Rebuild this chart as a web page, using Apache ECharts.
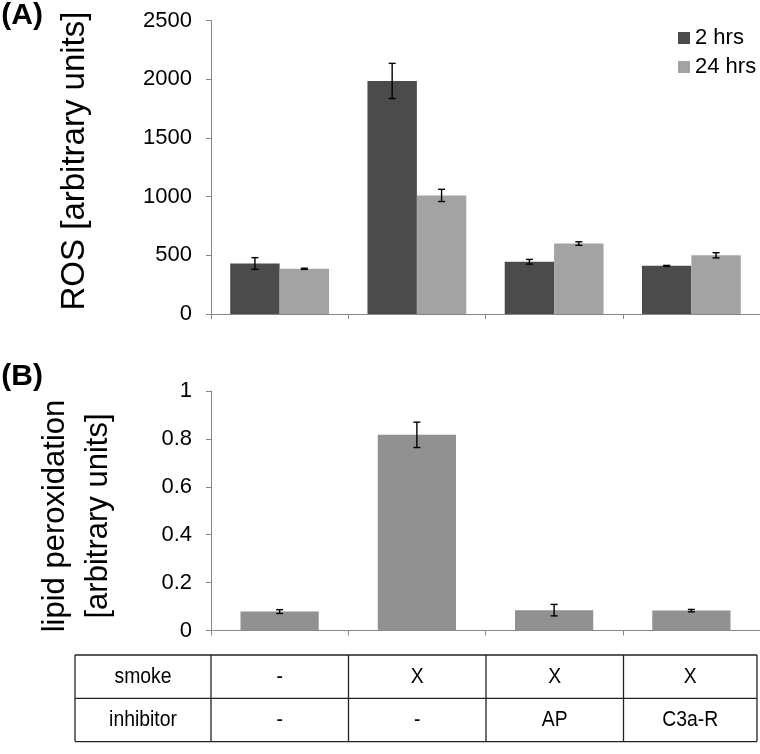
<!DOCTYPE html>
<html><head><meta charset="utf-8">
<script src="https://cdn.jsdelivr.net/npm/echarts@6/dist/echarts.min.js"></script>
<style>html,body{margin:0;padding:0;background:#fff}#c{width:760px;height:754px}</style>
</head><body><div id="c"></div>
<script>
// ---- data ----
const categories = ['g1', 'g2', 'g3', 'g4'];
const seriesNames = ['2 hrs', '24 hrs'];
const ros2h = [430, 1985, 445, 410];
const ros2hErr = [50, 150, 20, 4];
const ros24h = [385, 1010, 600, 500];
const ros24hErr = [5, 52, 15, 22];
const lipid = [0.079, 0.817, 0.085, 0.083];
const lipidErr = [0.008, 0.053, 0.024, 0.005];
const rosTicks = [0, 500, 1000, 1500, 2000, 2500];
const lipidTicks = [0, 0.2, 0.4, 0.6, 0.8, 1];
const rowLabels = ['smoke', 'inhibitor'];
const smokeRow = ['-', 'X', 'X', 'X'];
const inhibitorRow = ['-', '-', 'AP', 'C3a-R'];
const panelLabels = ['(A)', '(B)'];
const yNameA = 'ROS [arbitrary units]';
const yNameB = 'lipid peroxidation\n[arbitrary units]';

// ---- layout ----
const FONT = "'Liberation Sans', Arial, sans-serif";
const gridLeft = 211, gridWidth = 550;
const bandW = gridWidth / categories.length;
const axisColor = '#868686';

function errSeries(xi, yi, vals, errs, offsetFrac) {
  return {
    type: 'custom', xAxisIndex: xi, yAxisIndex: yi, z: 10, silent: true,
    data: vals.map((v, i) => [i, v - errs[i], v + errs[i]]),
    encode: { x: 0, y: [1, 2] },
    renderItem(params, api) {
      const i = api.value(0);
      const lo = api.coord([i, api.value(1)]);
      const hi = api.coord([i, api.value(2)]);
      const bw = api.size([1, 0])[0];
      const x = lo[0] + bw * offsetFrac;
      const cap = 3.5;
      const st = { stroke: '#000', lineWidth: 1.4 };
      return { type: 'group', children: [
        { type: 'line', shape: { x1: x, y1: lo[1], x2: x, y2: hi[1] }, style: st },
        { type: 'line', shape: { x1: x - cap, y1: lo[1], x2: x + cap, y2: lo[1] }, style: st },
        { type: 'line', shape: { x1: x - cap, y1: hi[1], x2: x + cap, y2: hi[1] }, style: st }
      ] };
    }
  };
}

function yAxisCfg(gi, ticks) {
  return {
    type: 'value', gridIndex: gi, min: ticks[0], max: ticks[ticks.length - 1],
    interval: ticks[1] - ticks[0],
    axisLine: { show: true, lineStyle: { color: axisColor, width: 1 } },
    axisTick: { show: true, inside: false, length: 5, lineStyle: { color: axisColor } },
    splitLine: { show: false },
    axisLabel: { margin: 19, color: '#000', fontSize: 22, fontFamily: FONT,
      formatter: v => String(Math.round(v * 10) / 10) }
  };
}
function xAxisCfg(gi) {
  return {
    type: 'category', gridIndex: gi, data: categories,
    axisLine: { show: true, lineStyle: { color: axisColor, width: 1 } },
    axisTick: { show: true, length: 5, lineStyle: { color: axisColor } },
    axisLabel: { show: false }
  };
}

// table graphics
const tLeft = 75, tTop = 655, rowH = 43.3, tRight = 757;
const colEdges = [tLeft];
for (let k = 0; k < categories.length; k++) colEdges.push(gridLeft + k * bandW);
colEdges.push(tRight);
const tableEls = [];
const lineSt = { stroke: '#222', lineWidth: 1.3 };
for (let r = 0; r <= 2; r++) {
  tableEls.push({ type: 'line', shape: { x1: tLeft, y1: tTop + r * rowH, x2: tRight, y2: tTop + r * rowH }, style: lineSt });
}
colEdges.forEach(x => tableEls.push({ type: 'line', shape: { x1: x, y1: tTop, x2: x, y2: tTop + 2 * rowH }, style: lineSt }));
const rows = [smokeRow, inhibitorRow];
rows.forEach((row, r) => {
  const cells = [rowLabels[r]].concat(row);
  cells.forEach((t, c) => {
    tableEls.push({ type: 'text', x: (colEdges[c] + colEdges[c + 1]) / 2, y: tTop + (r + 0.5) * rowH, scaleX: 0.88,
      style: { text: t, fontSize: 22, fontFamily: FONT, fill: '#000', align: 'center', verticalAlign: 'middle' } });
  });
});

const option = {
  animation: false,
  backgroundColor: '#fff',
  grid: [
    { left: gridLeft, top: 20.5, width: gridWidth, height: 293.5 },
    { left: gridLeft, top: 391, width: gridWidth, height: 239.5 }
  ],
  xAxis: [xAxisCfg(0), xAxisCfg(1)],
  yAxis: [yAxisCfg(0, rosTicks), yAxisCfg(1, lipidTicks)],
  legend: {
    data: seriesNames, orient: 'vertical', left: 673, top: 22, itemWidth: 12, itemHeight: 12,
    itemGap: 7, icon: 'rect', textStyle: { fontSize: 22, color: '#000', fontFamily: FONT }
  },
  series: [
    { name: seriesNames[0], type: 'bar', xAxisIndex: 0, yAxisIndex: 0, data: ros2h, barWidth: '36%', barGap: '0%',
      itemStyle: { color: '#4b4b4b' } },
    { name: seriesNames[1], type: 'bar', xAxisIndex: 0, yAxisIndex: 0, data: ros24h, barWidth: '36%', barGap: '0%',
      itemStyle: { color: '#a3a3a3' } },
    errSeries(0, 0, ros2h, ros2hErr, -0.18),
    errSeries(0, 0, ros24h, ros24hErr, 0.18),
    { name: 'lipid', type: 'bar', xAxisIndex: 1, yAxisIndex: 1, data: lipid, barWidth: '57%',
      itemStyle: { color: '#919191' } },
    errSeries(1, 1, lipid, lipidErr, 0)
  ],
  graphic: [
    { type: 'text', x: 43, y: 16, style: { text: panelLabels[0], fontSize: 30, fontWeight: 'bold', fontFamily: FONT, fill: '#000', align: 'right', verticalAlign: 'middle' } },
    { type: 'text', x: 43, y: 377, style: { text: panelLabels[1], fontSize: 30, fontWeight: 'bold', fontFamily: FONT, fill: '#000', align: 'right', verticalAlign: 'middle' } },
    { type: 'text', x: 75, y: 161, rotation: Math.PI / 2, style: { text: yNameA, fontSize: 33, fontFamily: FONT, fill: '#000', align: 'center', verticalAlign: 'middle' } },
    { type: 'text', x: 77, y: 516, rotation: Math.PI / 2, style: { text: yNameB, fontSize: 31, lineHeight: 43, fontFamily: FONT, fill: '#000', align: 'center', verticalAlign: 'middle' } }
  ].concat(tableEls)
};
const chart = echarts.init(document.getElementById('c'), null, { renderer: 'canvas' });
chart.setOption(option);
</script></body></html>
